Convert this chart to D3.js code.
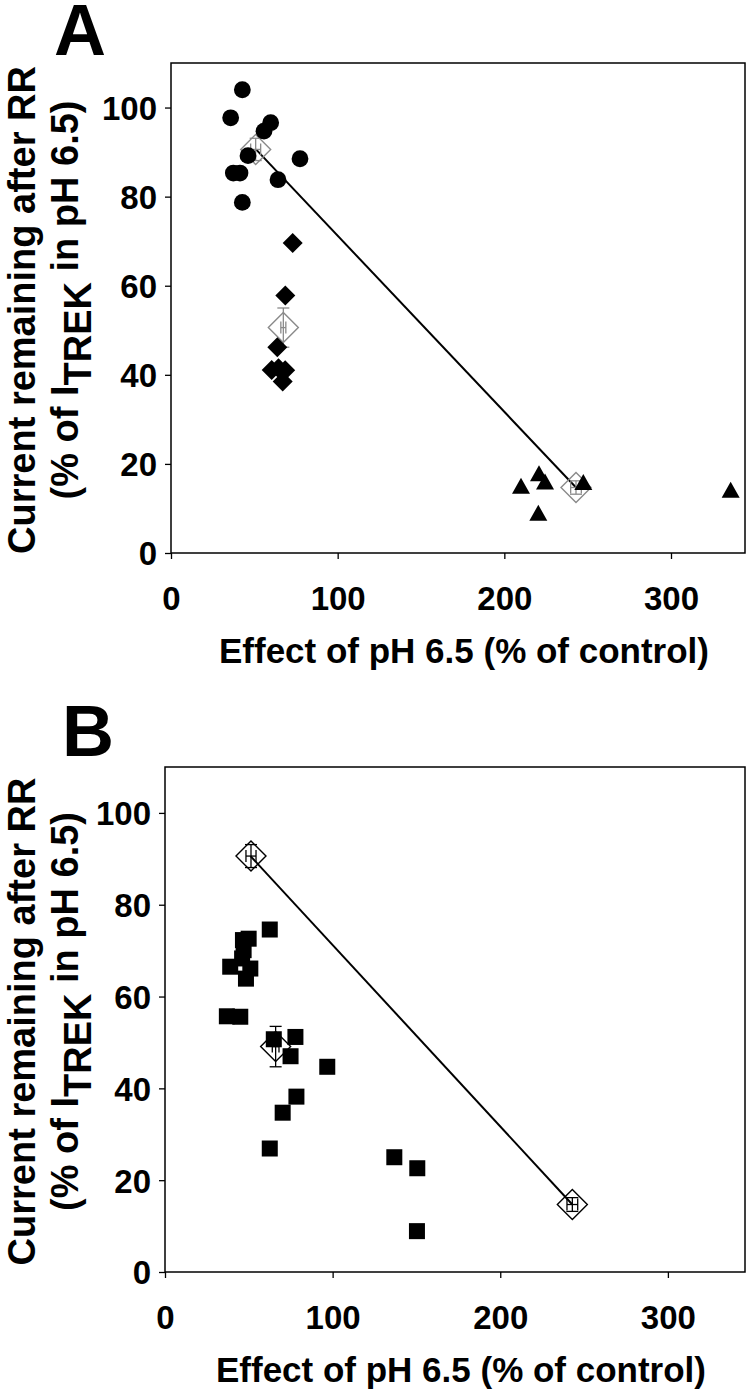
<!DOCTYPE html>
<html><head><meta charset="utf-8">
<script src="https://cdn.jsdelivr.net/npm/d3@7"></script>
<style>body{margin:0;background:#fff}svg{display:block}text{font-family:"Liberation Sans",Arial,sans-serif;font-weight:bold;fill:#000}</style>
</head><body><svg id="c" width="750" height="1390"></svg>
<script>
// ---- data ----
const xTicks = [0, 100, 200, 300];
const yTicks = [0, 20, 40, 60, 80, 100];
// Panel A
const circleX = [42.8, 35.8, 59.8, 55.8, 46.2, 77.4, 37.4, 41.4, 64.2, 42.8];
const circleY = [104.0, 97.7, 96.6, 94.7, 89.2, 88.5, 85.3, 85.3, 83.8, 78.7];
const diamondX = [73.0, 68.6, 63.8, 60.4, 64.5, 68.5, 67.0];
const diamondY = [69.6, 57.8, 46.2, 41.1, 41.5, 41.0, 38.5];
const triX = [210, 220.8, 224.4, 220.4, 247.4, 335.8];
const triY = [14.9, 17.7, 15.8, 8.8, 15.7, 14.0];
const meanAX = [50.8, 67.4, 243];
const meanAY = [90.6, 50.6, 14.7];
const meanAXerr = [3, 1.5, 3.2];
const meanAYerr = [2.5, 4.4, 1.5];
// Panel B
const squareX = [62.5, 49.9, 46.5, 46.9, 46.0, 38.9, 50.9, 48.3, 36.9, 44.9, 64.9, 77.8, 74.9, 96.8, 78.4, 70.2, 62.5, 136.8, 150.5, 150.3];
const squareY = [74.6, 72.6, 72.3, 70.1, 68.3, 66.5, 66.1, 63.9, 55.7, 55.6, 50.7, 51.2, 47.0, 44.7, 38.2, 34.7, 26.9, 25.0, 22.6, 8.9];
const meanBX = [51.3, 66.0, 243];
const meanBY = [90.6, 49.1, 14.7];
const meanBXerr = [3, 2, 3.2];
const meanBYerr = [2.5, 4.4, 1.5];
// line between the two reference means
const lineX = [51, 243];
const lineY = [90.6, 14.7];

const svg = d3.select("#c");

function panel(opt) {
  const x = d3.scaleLinear().domain(opt.xDomain).range([opt.left, opt.right]);
  const y = d3.scaleLinear().domain([0, 110]).range([opt.bottom, opt.top]);
  const g = svg.append("g");
  g.append("rect").attr("x", opt.left).attr("y", opt.top)
    .attr("width", opt.right - opt.left).attr("height", opt.bottom - opt.top)
    .attr("fill", "none").attr("stroke", "#000").attr("stroke-width", 1.5);
  const ax = g.append("g").attr("transform", `translate(0,${opt.bottom})`)
    .call(d3.axisBottom(x).tickValues(xTicks).tickSize(6).tickPadding(28));
  const ay = g.append("g").attr("transform", `translate(${opt.left},0)`)
    .call(d3.axisLeft(y).tickValues(yTicks).tickSize(6).tickPadding(8));
  [ax, ay].forEach(a => {
    a.select(".domain").remove();
    a.selectAll("line").attr("stroke", "#000").attr("stroke-width", 1.3);
    a.selectAll("text").style("font-size", "33px").style("font-family", '"Liberation Sans",Arial,sans-serif').style("font-weight", "bold").attr("fill", "#000");
  });
  ax.selectAll("text").attr("dy", "0.71em");
  ay.selectAll("text").attr("dy", "0.36em");

  g.append("path").attr("d", d3.line().x(d => x(d[0])).y(d => y(d[1]))(lineX.map((v, i) => [v, lineY[i]])))
    .attr("stroke", "#000").attr("stroke-width", 2).attr("fill", "none");

  const mc = opt.meanColor;
  opt.mX.forEach((mx, i) => {
    const cx = x(mx), cy = y(opt.mY[i]);
    const h = 15;
    g.append("path").attr("d", `M${cx},${cy - h}L${cx + h},${cy}L${cx},${cy + h}L${cx - h},${cy}Z`)
      .attr("fill", "none").attr("stroke", mc).attr("stroke-width", 1.4);
    const x0 = x(mx - opt.mXe[i]), x1 = x(mx + opt.mXe[i]);
    const y0 = y(opt.mY[i] - opt.mYe[i]), y1 = y(opt.mY[i] + opt.mYe[i]);
    const eb = g.append("g").attr("stroke", mc).attr("stroke-width", 1.3);
    eb.append("line").attr("x1", x0).attr("x2", x1).attr("y1", cy).attr("y2", cy);
    eb.append("line").attr("x1", x0).attr("x2", x0).attr("y1", cy - 6).attr("y2", cy + 6);
    eb.append("line").attr("x1", x1).attr("x2", x1).attr("y1", cy - 6).attr("y2", cy + 6);
    eb.append("line").attr("x1", cx).attr("x2", cx).attr("y1", y0).attr("y2", y1);
    eb.append("line").attr("x1", cx - 6).attr("x2", cx + 6).attr("y1", y0).attr("y2", y0);
    eb.append("line").attr("x1", cx - 6).attr("x2", cx + 6).attr("y1", y1).attr("y2", y1);
  });

  opt.draw(g, x, y);

  g.append("text").attr("x", (opt.left + opt.right) / 2 + 6).attr("y", opt.bottom + 110)
    .attr("text-anchor", "middle").style("font-size", "35px").text("Effect of pH 6.5 (% of control)");
  const cyT = (opt.top + opt.bottom) / 2;
  g.append("text").attr("transform", `translate(${opt.t1x},${cyT + 2}) rotate(-90)`)
    .attr("text-anchor", "middle").style("font-size", "38px").text("Current remaining after RR");
  const t2 = g.append("text").attr("transform", `translate(${opt.t1x + 43},${cyT - 8}) rotate(-90)`)
    .attr("text-anchor", "middle").style("font-size", "38px");
  t2.append("tspan").text("(% of I");
  t2.append("tspan").attr("dy", 13).text("TREK");
  t2.append("tspan").attr("dy", -13).text(" in pH 6.5)");
  g.append("text").attr("x", opt.letterX).attr("y", opt.letterY).style("font-size", "72px").text(opt.letter);
}

panel({
  left: 171, right: 745, top: 63, bottom: 553, xDomain: [0, 344.4],
  meanColor: "#8a8a8a", mX: meanAX, mY: meanAY, mXe: meanAXerr, mYe: meanAYerr,
  t1x: 35, letter: "A", letterX: 54, letterY: 55,
  draw: (g, x, y) => {
    g.selectAll(".ci").data(circleX).join("circle")
      .attr("cx", d => x(d)).attr("cy", (d, i) => y(circleY[i])).attr("r", 8.4).attr("fill", "#000");
    g.selectAll(".di").data(diamondX).join("path")
      .attr("d", (d, i) => { const cx = x(d), cy = y(diamondY[i]), h = 10; return `M${cx},${cy - h}L${cx + h},${cy}L${cx},${cy + h}L${cx - h},${cy}Z`; })
      .attr("fill", "#000");
    g.selectAll(".tr").data(triX).join("path")
      .attr("d", (d, i) => { const cx = x(d), cy = y(triY[i]); return `M${cx},${cy - 9}L${cx + 9},${cy + 7}L${cx - 9},${cy + 7}Z`; })
      .attr("fill", "#000");
  }
});

panel({
  left: 165, right: 745, top: 767, bottom: 1272, xDomain: [0, 346],
  meanColor: "#000", mX: meanBX, mY: meanBY, mXe: meanBXerr, mYe: meanBYerr,
  t1x: 35, letter: "B", letterX: 62, letterY: 756,
  draw: (g, x, y) => {
    g.selectAll(".sq").data(squareX).join("rect")
      .attr("x", d => x(d) - 8).attr("y", (d, i) => y(squareY[i]) - 8)
      .attr("width", 16).attr("height", 16).attr("fill", "#000");
  }
});
</script></body></html>
